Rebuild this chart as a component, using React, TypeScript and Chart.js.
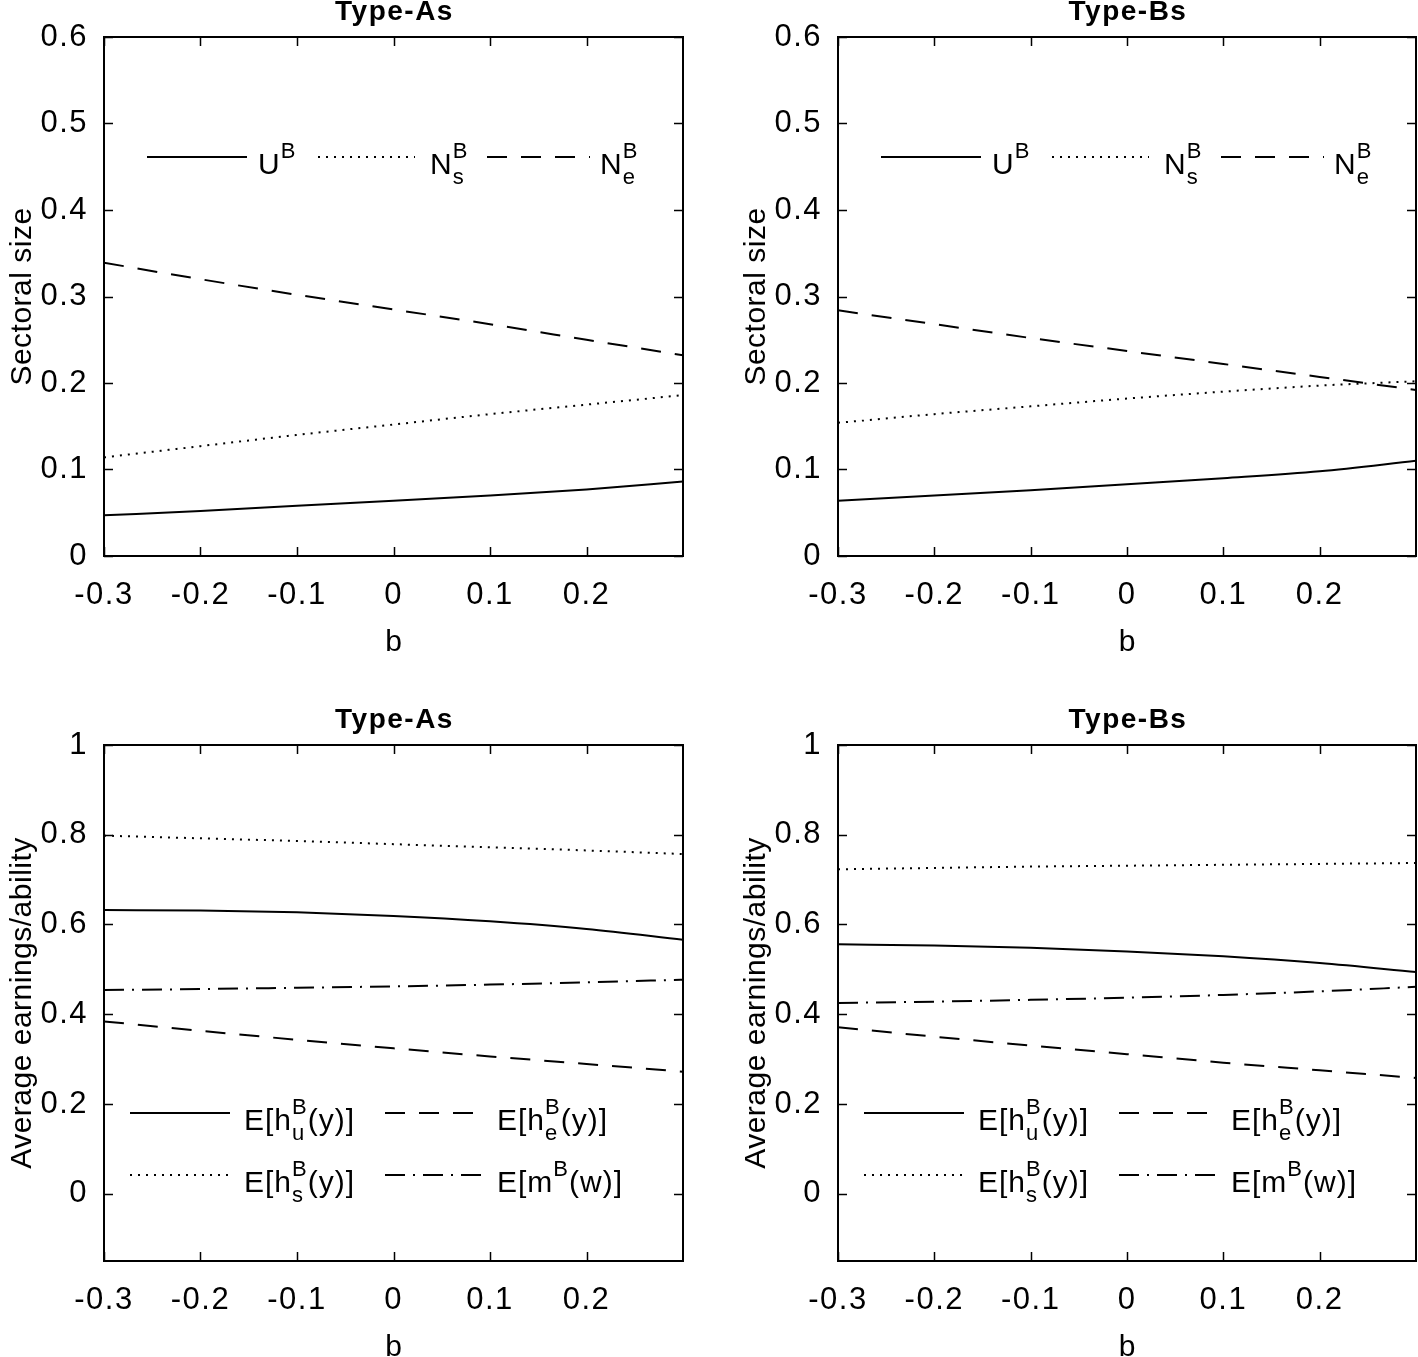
import React, { useEffect, useRef } from 'react';
import { Chart, registerables } from 'chart.js';

Chart.register(...registerables);

// ---------- data ----------
const bValues = [-0.3, -0.2, -0.1, 0, 0.1, 0.2, 0.3];
const xTickValues = [-0.3, -0.2, -0.1, 0, 0.1, 0.2];
const topYTicks = [0, 0.1, 0.2, 0.3, 0.4, 0.5, 0.6];
const bottomYTicks = [0, 0.2, 0.4, 0.6, 0.8, 1];

const panelTitles = ['Type-As', 'Type-Bs'];
const topYTitle = 'Sectoral size';
const bottomYTitle = 'Average earnings/ability';
const xTitle = 'b';

// Type-As, sectoral size
const aU = [0.047, 0.052, 0.058, 0.064, 0.070, 0.077, 0.086];
const aNs = [0.114, 0.127, 0.140, 0.152, 0.164, 0.175, 0.186];
const aNe = [0.339, 0.320, 0.302, 0.285, 0.268, 0.250, 0.232];
// Type-Bs, sectoral size
const bU = [0.064, 0.070, 0.076, 0.083, 0.090, 0.098, 0.110];
const bNs = [0.154, 0.164, 0.173, 0.182, 0.190, 0.197, 0.202];
const bNe = [0.284, 0.268, 0.252, 0.237, 0.222, 0.207, 0.192];
// Type-As, earnings
const aHu = [0.632, 0.631, 0.627, 0.619, 0.607, 0.590, 0.566];
const aHs = [0.798, 0.792, 0.786, 0.779, 0.772, 0.765, 0.757];
const aHe = [0.384, 0.363, 0.343, 0.324, 0.306, 0.289, 0.272];
const aM = [0.454, 0.456, 0.459, 0.462, 0.466, 0.471, 0.477];
// Type-Bs, earnings
const bHu = [0.556, 0.553, 0.548, 0.540, 0.529, 0.514, 0.494];
const bHs = [0.723, 0.726, 0.729, 0.731, 0.733, 0.735, 0.737];
const bHe = [0.371, 0.350, 0.330, 0.311, 0.292, 0.275, 0.258];
const bM = [0.425, 0.428, 0.432, 0.437, 0.443, 0.451, 0.461];

// ---------- styles ----------
const FONT = '"Liberation Sans", Arial, Helvetica, sans-serif';
const SOLID: number[] = [];
const DOTTED = [2, 6];
const DASHED = [20, 14];
const DASHDOT = [20, 8, 2, 8];

type Part = { t?: string; sup?: string; sub?: string };
type LegendItem = { x1: number; x2: number; y: number; dash: number[]; tx: number; parts: Part[] };
type Series = { data: number[]; dash: number[] };
type PanelCfg = {
  left: number; top: number; width: number; height: number;
  padTop: number; padRight: number; xAxisH: number;
  yMin: number; yMax: number; yTicks: number[];
  title: string; yTitle: string;
  series: Series[];
  legend: LegendItem[];
};

const topLegend = (): LegendItem[] => [
  { x1: 43, x2: 143, y: 120, dash: SOLID, tx: 154, parts: [{ t: 'U' }, { sup: 'B' }] },
  { x1: 214, x2: 311, y: 120, dash: DOTTED, tx: 326, parts: [{ t: 'N' }, { sup: 'B', sub: 's' }] },
  { x1: 383, x2: 486, y: 120, dash: DASHED, tx: 496, parts: [{ t: 'N' }, { sup: 'B', sub: 'e' }] },
];
const bottomLegend = (): LegendItem[] => [
  { x1: 26, x2: 126, y: 368, dash: SOLID, tx: 140, parts: [{ t: 'E[h' }, { sup: 'B', sub: 'u' }, { t: '(y)]' }] },
  { x1: 281, x2: 381, y: 368, dash: DASHED, tx: 393, parts: [{ t: 'E[h' }, { sup: 'B', sub: 'e' }, { t: '(y)]' }] },
  { x1: 26, x2: 126, y: 430, dash: DOTTED, tx: 140, parts: [{ t: 'E[h' }, { sup: 'B', sub: 's' }, { t: '(y)]' }] },
  { x1: 281, x2: 381, y: 430, dash: DASHDOT, tx: 393, parts: [{ t: 'E[m' }, { sup: 'B' }, { t: '(w)]' }] },
];

const panels: PanelCfg[] = [
  {
    left: 0, top: 0, width: 709, height: 678, padTop: 37, padRight: 26, xAxisH: 122,
    yMin: 0, yMax: 0.6, yTicks: topYTicks, title: panelTitles[0], yTitle: topYTitle,
    series: [{ data: aU, dash: SOLID }, { data: aNs, dash: DOTTED }, { data: aNe, dash: DASHED }],
    legend: topLegend(),
  },
  {
    left: 734, top: 0, width: 684, height: 678, padTop: 37, padRight: 2, xAxisH: 122,
    yMin: 0, yMax: 0.6, yTicks: topYTicks, title: panelTitles[1], yTitle: topYTitle,
    series: [{ data: bU, dash: SOLID }, { data: bNs, dash: DOTTED }, { data: bNe, dash: DASHED }],
    legend: topLegend(),
  },
  {
    left: 0, top: 678, width: 709, height: 679, padTop: 67, padRight: 26, xAxisH: 96,
    yMin: -0.15, yMax: 1, yTicks: bottomYTicks, title: panelTitles[0], yTitle: bottomYTitle,
    series: [{ data: aHu, dash: SOLID }, { data: aHe, dash: DASHED }, { data: aHs, dash: DOTTED }, { data: aM, dash: DASHDOT }],
    legend: bottomLegend(),
  },
  {
    left: 734, top: 678, width: 684, height: 679, padTop: 67, padRight: 2, xAxisH: 96,
    yMin: -0.15, yMax: 1, yTicks: bottomYTicks, title: panelTitles[1], yTitle: bottomYTitle,
    series: [{ data: bHu, dash: SOLID }, { data: bHe, dash: DASHED }, { data: bHs, dash: DOTTED }, { data: bM, dash: DASHDOT }],
    legend: bottomLegend(),
  },
];

function fmt(v: number): string {
  return String(Number(v.toFixed(2)));
}

function drawRich(ctx: CanvasRenderingContext2D, x: number, baseline: number, parts: Part[], size: number) {
  let cx = x;
  const small = Math.round(size * 0.72);
  for (const p of parts) {
    if (p.t) {
      ctx.font = `${size}px ${FONT}`;
      ctx.fillText(p.t, cx, baseline);
      cx += ctx.measureText(p.t).width;
    } else {
      ctx.font = `${small}px ${FONT}`;
      let w = 0;
      if (p.sup) {
        ctx.fillText(p.sup, cx, baseline - 16);
        w = Math.max(w, ctx.measureText(p.sup).width);
      }
      if (p.sub) {
        ctx.fillText(p.sub, cx, baseline + 10);
        w = Math.max(w, ctx.measureText(p.sub).width);
      }
      cx += w;
    }
  }
}

function makeDecor(cfg: PanelCfg) {
  return {
    id: 'decor',
    beforeDraw(chart: any) {
      (chart.ctx as any).letterSpacing = '1.5px';
    },
    afterDraw(chart: any) {
      const ctx: CanvasRenderingContext2D = chart.ctx;
      const { left, right, top, bottom } = chart.chartArea;
      const xs = chart.scales.x;
      const ys = chart.scales.y;
      ctx.save();
      (ctx as any).letterSpacing = '0px';
      ctx.strokeStyle = '#000';
      ctx.setLineDash([]);
      // inside ticks
      ctx.lineWidth = 1.5;
      ctx.beginPath();
      for (const v of xTickValues) {
        const px = Math.round(xs.getPixelForValue(v)) + 0.5;
        ctx.moveTo(px, bottom); ctx.lineTo(px, bottom - 9);
        ctx.moveTo(px, top); ctx.lineTo(px, top + 9);
      }
      for (const v of cfg.yTicks) {
        const py = Math.round(ys.getPixelForValue(v)) + 0.5;
        ctx.moveTo(left, py); ctx.lineTo(left + 9, py);
        ctx.moveTo(right, py); ctx.lineTo(right - 9, py);
      }
      ctx.stroke();
      // box
      ctx.lineWidth = 2;
      ctx.strokeRect(left, top, right - left, bottom - top);

      // legend
      ctx.fillStyle = '#000';
      ctx.textAlign = 'left';
      ctx.textBaseline = 'alphabetic';
      for (const it of cfg.legend) {
        ctx.lineWidth = 2;
        ctx.setLineDash(it.dash);
        ctx.beginPath();
        ctx.moveTo(left + it.x1, top + it.y);
        ctx.lineTo(left + it.x2, top + it.y);
        ctx.stroke();
        ctx.setLineDash([]);
        (ctx as any).letterSpacing = '1px';
        drawRich(ctx, left + it.tx, top + it.y + 17, it.parts, 30);
        (ctx as any).letterSpacing = '0px';
      }

      // title
      (ctx as any).letterSpacing = '1.5px';
      ctx.textAlign = 'center';
      ctx.font = `bold 28px ${FONT}`;
      ctx.fillText(cfg.title, (left + right) / 2 + 1, top - 17);

      // x title
      (ctx as any).letterSpacing = '0px';
      ctx.font = `30px ${FONT}`;
      ctx.fillText(xTitle, (left + right) / 2, bottom + 95);

      // y title
      ctx.translate(left - 73, (top + bottom) / 2);
      ctx.rotate(-Math.PI / 2);
      (ctx as any).letterSpacing = '0.5px';
      ctx.font = `30px ${FONT}`;
      ctx.fillText(cfg.yTitle, 0, 0);
      ctx.restore();
    },
  };
}

function Panel({ cfg }: { cfg: PanelCfg }) {
  const ref = useRef<HTMLCanvasElement | null>(null);
  useEffect(() => {
    const canvas = ref.current;
    if (!canvas) return;
    const chart = new Chart(canvas, {
      type: 'line',
      data: {
        datasets: cfg.series.map((s) => ({
          data: bValues.map((b, i) => ({ x: b, y: s.data[i] })),
          borderColor: '#000',
          borderWidth: 2,
          borderDash: s.dash,
          pointRadius: 0,
          fill: false,
          cubicInterpolationMode: 'monotone' as const,
        })),
      },
      options: {
        responsive: false,
        animation: false,
        devicePixelRatio: 1,
        layout: { padding: { top: cfg.padTop, right: cfg.padRight, bottom: 0, left: 0 } },
        plugins: { legend: { display: false }, tooltip: { enabled: false }, title: { display: false } },
        scales: {
          x: {
            type: 'linear',
            min: -0.3,
            max: 0.3,
            grid: { display: false, drawTicks: false },
            border: { display: false },
            afterBuildTicks: (s: any) => { s.ticks = xTickValues.map((v) => ({ value: v })); },
            afterFit: (s: any) => { s.height = cfg.xAxisH; s.paddingLeft = 0; s.paddingRight = 0; },
            ticks: {
              padding: 21,
              color: '#000',
              maxRotation: 0,
              autoSkip: false,
              font: { family: FONT, size: 31 },
              callback: (v: any) => fmt(Number(v)),
            },
          },
          y: {
            type: 'linear',
            min: cfg.yMin,
            max: cfg.yMax,
            grid: { display: false, drawTicks: false },
            border: { display: false },
            afterBuildTicks: (s: any) => { s.ticks = cfg.yTicks.map((v) => ({ value: v })); },
            afterFit: (s: any) => { s.width = 104; s.paddingTop = 0; s.paddingBottom = 0; },
            ticks: {
              padding: 16,
              color: '#000',
              autoSkip: false,
              font: { family: FONT, size: 31 },
              callback: (v: any) => fmt(Number(v)),
            },
          },
        },
      },
      plugins: [makeDecor(cfg)],
    } as any);
    return () => chart.destroy();
  }, [cfg]);
  return (
    <canvas
      ref={ref}
      width={cfg.width}
      height={cfg.height}
      style={{ position: 'absolute', left: cfg.left, top: cfg.top, width: cfg.width, height: cfg.height }}
    />
  );
}

export default function App() {
  return (
    <div style={{ position: 'absolute', left: 0, top: 0, width: 1418, height: 1357, background: '#fff', overflow: 'hidden' }}>
      {panels.map((p, i) => (
        <Panel key={i} cfg={p} />
      ))}
    </div>
  );
}
